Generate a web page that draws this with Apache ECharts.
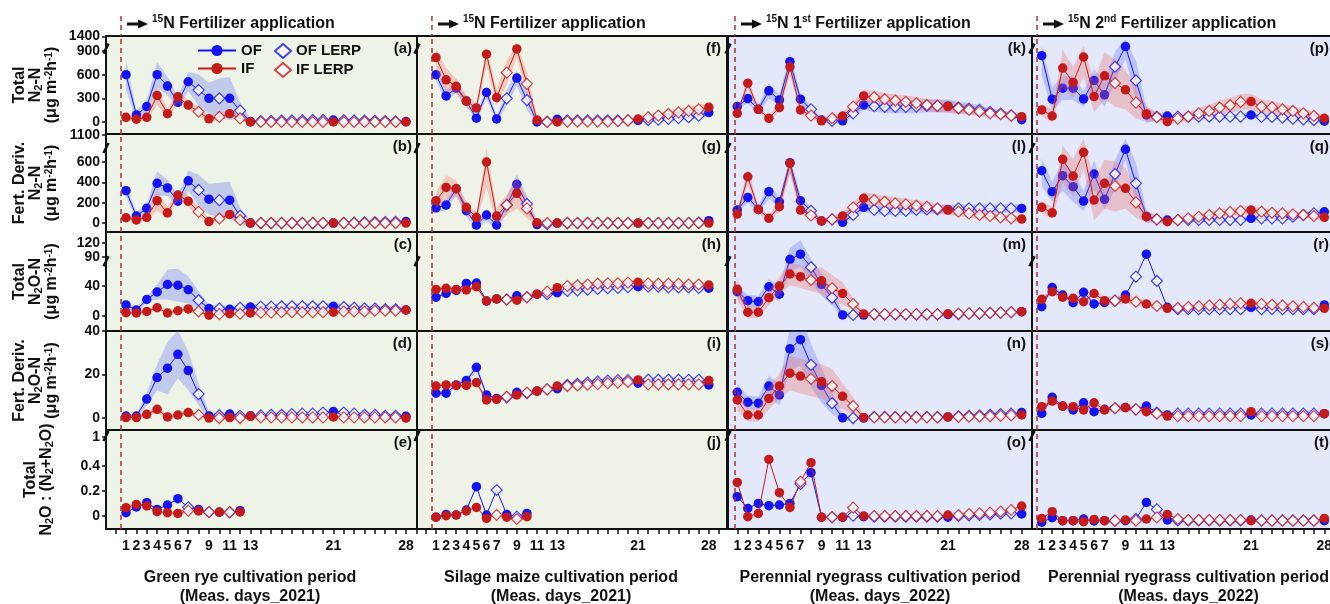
<!DOCTYPE html>
<html>
<head>
<meta charset="utf-8">
<script src="https://cdn.jsdelivr.net/npm/echarts@6/dist/echarts.min.js"></script>
<style>
html, body { margin: 0; padding: 0; background: #fff; }
#chart { width: 1330px; height: 604px; }
</style>
</head>
<body>
<div id="chart"></div>
<script>
// measurement days (x) and which of them were measured (circles) vs LERP (diamonds)
const days = [1, 2, 3, 4, 5, 6, 7, 8, 9, 10, 11, 12, 13, 14, 15, 16, 17, 18, 19, 20, 21, 22, 23, 24, 25, 26, 27, 28];
const measStd = [1, 2, 3, 4, 5, 6, 7, 9, 11, 13, 21, 28];
const measE = [1, 2, 3, 4, 5, 6, 8, 10, 12];
const measJ = [1, 2, 3, 4, 5, 6, 8, 10];
const measO = [1, 2, 3, 4, 5, 6, 8, 9, 11, 13, 21, 28];
const xTickLabels = [1, 2, 3, 4, 5, 6, 7, 9, 11, 13, 21, 28];

// y tick labels per row (real values)
const yTicksN2 = [0, 300, 600, 900, 1400];
const yTicksN2fd = [0, 200, 400, 600, 1100];
const yTicksN2O = [0, 40, 90, 120];
const yTicksN2Ofd = [0, 20, 40];
const yTicksRatio = [0, 0.2, 0.4, 1];

// ---- green rye 2021 ----
const aOF = [600, 90, 195, 600, 455, 250, 510, 405, 300, 300, 300, 145, 5, 12, 15, 18, 20, 22, 25, 25, 25, 22, 20, 18, 15, 12, 8, 5];
const aIF = [60, 35, 60, 335, 105, 320, 215, 130, 40, 65, 105, 45, 0, 0, 0, 0, 0, 0, 0, 0, 0, 0, 0, 0, 0, 0, 0, 0];
const aOFsd = [190, 60, 80, 160, 120, 70, 120, 200, 200, 250, 270, 110, 40, null, null, null, null, null, null, null, null, null, null, null, null, null, null, null];
const aIFsd = [30, 30, 40, 120, 60, 80, 60, 60, 40, 40, 40, 30, 20, null, null, null, null, null, null, null, null, null, null, null, null, null, null, null];

const bOF = [318, 69, 145, 390, 345, 215, 415, 325, 235, 225, 225, 70, 0, 0, 0, 0, 0, 0, 0, 0, 0, 2, 4, 6, 8, 10, 12, 15];
const bIF = [52, 30, 55, 220, 100, 275, 215, 110, 15, 45, 85, 30, 0, 0, 0, 0, 0, 0, 0, 0, 0, 0, 0, 0, 0, 0, 0, 0];
const bOFsd = [60, 40, 40, 120, 80, 60, 100, 150, 150, 170, 180, 80, 30, null, null, null, null, null, null, null, null, null, null, null, null, null, null, null];
const bIFsd = [20, 20, 30, 100, 60, 50, 60, 40, 30, 30, 30, 20, 10, null, null, null, null, null, null, null, null, null, null, null, null, null, null, null];

const cOF = [14.7, 8, 22, 32, 42, 41, 35, 21, 10, 10, 9, 11, 12, 12.5, 12.5, 13, 13, 13, 13, 13, 13, 12, 11, 10, 10, 9, 9, 8];
const cIF = [4.5, 4, 6, 11, 4, 7, 9.5, 6, 1, 2.5, 3, 3, 4, 4.5, 4.5, 5, 5, 5, 5, 5, 5, 6, 6, 6, 7, 7, 7, 8];
const cOFsd = [3, 3, 4, 10, 20, 22, 18, 12, 5, 4, 4, 4, 4, 4, 4, 4, 4, 4, 4, 4, 4, 4, 4, 4, 4, 4, 4, 4];
const cIFsd = [2, 2, 2, 3, 2, 2, 2, 2, 1.5, 1.5, 1.5, 1.5, 1.5, 1.5, 1.5, 1.5, 1.5, 1.5, 1.5, 1.5, 1.5, 1.5, 1.5, 1.5, 1.5, 1.5, 1.5, 1.5];

const dOF = [0.9, 0.9, 8.7, 18.6, 22.9, 29.3, 21.8, 11, 0.9, 1.3, 1.8, 1, 1, 1.2, 1.5, 1.5, 1.8, 2, 2, 2.5, 3, 2.5, 2, 1.5, 1.5, 1, 1, 0.8];
const dIF = [0.2, 0.2, 1.7, 4, 0.5, 1.4, 2.5, 1.4, 0, 0, 0.2, 0, 0.8, 0.3, 0.3, 0.3, 0.3, 0.3, 0.3, 0.3, 0.5, 0.3, 0.3, 0.3, 0.3, 0.3, 0.3, 0];
const dOFsd = [1, 1, 3, 6, 12, 11, 9, 5, 2, 1, 1, 1, 1, null, null, null, null, null, null, null, null, null, null, null, null, null, null, null];
const dIFsd = [1, 1, 1, 1.5, 1, 1, 1, 1, 0.5, 0.5, 0.5, 0.5, 0.5, null, null, null, null, null, null, null, null, null, null, null, null, null, null, null];

const eOF = [0.027, 0.072, 0.107, 0.053, 0.088, 0.139, 0.07, 0.053, 0.03, 0.03, 0.03, 0.043];
const eIF = [0.067, 0.093, 0.08, 0.035, 0.027, 0.021, 0.043, 0.04, 0.032, 0.032, 0.03, 0.032];

// ---- silage maize 2021 ----
const fOF = [600, 330, 430, 265, 48, 374, 39, 300, 557, 278, 0, 5, 35, 20, 20, 20, 20, 20, 20, 20, 20, 25, 30, 40, 50, 60, 80, 119];
const fIF = [817, 535, 452, 265, 178, 860, 309, 626, 970, 484, 25, 0, 0, 5, 5, 5, 5, 5, 10, 20, 38, 60, 81, 102, 123, 140, 161, 187];
const fOFsd = [80, 80, 60, 60, 40, 80, 40, 100, 100, 120, 30, 20, 20, 20, 20, 20, 20, 20, 20, 20, 20, 25, 25, 30, 30, 35, 35, 40];
const fIFsd = [150, 150, 100, 80, 60, 150, 100, 150, 150, 150, 60, 20, 20, 20, 20, 20, 20, 25, 25, 30, 30, 35, 40, 45, 50, 55, 60, 60];

const gOF = [150, 177, 337, 121, -20, 79, -20, 177, 380, 187, -15, -10, 0, 0, 0, 0, 0, 0, 0, 0, 0, 0, 0, 0, 0, 0, 5, 23];
const gIF = [220, 350, 337, 154, 56, 600, 69, 177, 292, 144, 3, 0, 0, 0, 0, 0, 0, 0, 0, 0, 0, 0, 0, 0, 0, 0, 0, 0];
const gOFsd = [50, 50, 60, 60, 40, 60, 40, 80, 100, 80, 20, 10, 10, 10, 10, 10, 10, 10, 10, 10, 10, 10, 10, 10, 10, 10, 10, 10];
const gIFsd = [80, 120, 80, 60, 40, 250, 80, 100, 150, 100, 30, 10, 10, 10, 10, 10, 10, 10, 10, 10, 10, 10, 10, 10, 10, 10, 10, 10];

const hOF = [25, 30, 34, 43.5, 44, 20, 22.7, 22, 27, 25, 29, 29, 31, 33.4, 34, 35, 36, 37, 37.5, 38.5, 39, 39, 39, 38, 38, 38, 37.5, 37];
const hIF = [35.5, 37, 35.5, 34.7, 39, 20, 22.7, 22, 21, 25, 29, 32.4, 37.8, 40, 41, 42, 43, 43.6, 43.6, 44.6, 45, 43.6, 43, 43, 43, 42, 42, 41.3];
const hOFsd = [2, 2, 2, 2, 2, 2, 2, 2, 2, 2, 2, 2, 2, 2, 2, 2, 2, 2, 2, 2, 2, 2, 2, 2, 2, 2, 2, 2];
const hIFsd = [3, 3, 3, 3, 3, 3, 3, 3, 3, 3, 3, 3, 3, 3, 3, 3, 3, 3, 3, 3, 3, 3, 3, 3, 3, 3, 3, 3];

const iOF = [11.4, 11.4, 15.2, 17.2, 23.3, 10.6, 9, 9.5, 11.8, 11.4, 12.4, 13.2, 13.5, 15.2, 15.7, 16.3, 16.8, 17.2, 17.4, 17.4, 16, 17.6, 17.6, 17.6, 17.6, 17.6, 17.6, 15.2];
const iIF = [14.7, 15.2, 15, 15, 16.3, 8.3, 8.6, 9.8, 10.6, 11.7, 12.4, 13.2, 14.7, 14.7, 15, 15.3, 15.6, 16, 16.3, 16.6, 17.5, 15.5, 15.5, 15.5, 15.5, 15.5, 15.5, 17.2];
const iOFsd = [1, 1, 1, 1, 2, 1, 1, 1, 1, 1, 1, 1, 1, 1, 1, 1, 1, 1, 1, 1, 1, 1, 1, 1, 1, 1, 1, 1];
const iIFsd = [1, 1, 1, 1, 1.5, 1, 1, 1, 1, 1, 1, 1, 1, 1, 1, 1, 1, 1, 1, 1, 1, 1, 1, 1, 1, 1, 1, 1];

const jOF = [-0.01, 0.013, 0.008, 0.048, 0.235, 0.008, 0.208, 0.013, -0.005, 0.021];
const jIF = [-0.01, 0.003, 0.008, 0.04, 0.069, -0.019, 0.008, -0.01, -0.024, -0.005];

// ---- perennial ryegrass 2022, 1st application ----
const kOF = [195, 297, 161, 395, 280, 764, 289, 161, 25, 15, 15, 110, 216, 200, 190, 190, 190, 195, 205, 205, 204, 183, 170, 153, 127, 106, 85, 30];
const kIF = [110, 492, 161, 47, 183, 697, 153, 81, 15, 47, 76, 195, 331, 314, 289, 272, 255, 238, 216, 204, 195, 174, 153, 131, 110, 98, 81, 68];
const kOFsd = [40, 60, 50, 100, 60, 100, 60, 40, 30, 30, 30, 40, 60, 70, 75, 80, 80, 80, 80, 80, 80, 75, 70, 60, 50, 45, 40, 30];
const kIFsd = [40, 70, 40, 30, 50, 100, 50, 40, 30, 40, 50, 60, 80, 80, 80, 80, 80, 80, 80, 80, 80, 70, 60, 55, 50, 45, 40, 30];

const lOF = [128, 252, 134, 308, 209, 593, 219, 121, 20, 36, 7, 79, 154, 130, 120, 120, 120, 130, 134, 134, 134, 144, 144, 144, 144, 144, 144, 144];
const lIF = [88, 455, 134, 46, 160, 587, 128, 76, 20, 36, 69, 154, 243, 226, 209, 193, 183, 170, 160, 144, 128, 112, 95, 79, 69, 56, 46, 39];
const lOFsd = [30, 50, 40, 70, 50, 100, 50, 30, 20, 20, 20, 30, 40, 40, 40, 40, 40, 40, 40, 40, 40, 40, 40, 40, 40, 40, 40, 40];
const lIFsd = [30, 80, 40, 30, 50, 100, 40, 30, 20, 30, 40, 50, 60, 60, 60, 60, 55, 55, 50, 50, 50, 45, 40, 40, 35, 35, 30, 30];

const mOF = [32.4, 20.4, 19, 39, 29, 85, 96, 65, 42, 24.4, 1.5, 1.3, 1.3, 2, 2, 2, 2, 2, 2, 2, 2, 2.5, 3, 3.5, 4, 4.5, 5, 5.7];
const mIF = [35.6, 5, 5, 24.4, 40, 56, 52.4, 48, 47, 37, 30, 16, 2.7, 2.5, 2.5, 2.5, 2.5, 2.5, 2.5, 2.5, 3, 3, 3.5, 3.5, 4, 4.5, 5, 5.7];
const mOFsd = [8, 8, 8, 10, 10, 25, 30, 20, 15, 10, 5, 2, 2, 1, 1, 1, 1, 1, 1, 1, 1, 1, 1, 1, 1, 1, 1, 1];
const mIFsd = [15, 8, 8, 10, 12, 15, 15, 15, 18, 18, 15, 8, 3, 1, 1, 1, 1, 1, 1, 1, 1, 1, 1, 1, 1, 1, 1, 1];

const nOF = [11.8, 7.2, 6.8, 14.7, 10.6, 31.8, 36, 24.4, 15, 6.8, 0.1, 0, 0, 0.5, 0.5, 0.5, 0.5, 0.5, 0.5, 0.5, 0.5, 0.8, 1, 1.2, 1.5, 1.8, 2, 2.5];
const nIF = [8.3, 1.4, 1.4, 9, 14.7, 20.6, 19.3, 18, 16.7, 14.7, 10, 5.5, 0.3, 0.3, 0.3, 0.3, 0.3, 0.3, 0.3, 0.3, 0.5, 0.5, 0.6, 0.7, 0.8, 1, 1.2, 1.4];
const nOFsd = [4, 3, 3, 5, 5, 10, 12, 10, 8, 5, 2, 0.5, 0.5, null, null, null, null, null, null, null, null, null, null, null, null, null, null, null];
const nIFsd = [5, 3, 3, 5, 6, 8, 8, 8, 8, 8, 6, 4, 1, null, null, null, null, null, null, null, null, null, null, null, null, null, null, null];

const oOF = [0.155, 0.061, 0.101, 0.083, 0.088, 0.101, 0.256, 0.347, -0.01, -0.01, -0.01, 0.003, -0.005, -0.005, -0.005, -0.005, -0.005, -0.005, -0.005, -0.005, -0.01, 0, 0.005, 0.008, 0.013, 0.018, 0.02, 0.016];
const oIF = [0.269, -0.005, 0.021, 0.453, 0.187, 0.069, 0.275, 0.427, -0.01, -0.01, -0.01, 0.067, 0, 0, 0, 0, 0, 0, 0, 0, 0.008, 0.008, 0.016, 0.021, 0.027, 0.035, 0.048, 0.08];

// ---- perennial ryegrass 2022, 2nd application ----
const pOF = [841, 289, 429, 429, 293, 526, 344, 700, 1050, 526, 89, 68, 76, 68, 68, 68, 68, 68, 68, 68, 89, 64, 64, 55, 42, 34, 25, 10];
const pIF = [153, 76, 684, 501, 824, 323, 586, 493, 408, 246, 102, 60, 4, 42, 68, 110, 140, 183, 212, 255, 259, 195, 187, 161, 140, 110, 76, 47];
const pOFsd = [250, 150, 150, 150, 100, 150, 150, 200, 250, 250, 100, 50, 30, 30, 30, 30, 30, 30, 30, 30, 30, 30, 30, 30, 30, 30, 30, 30];
const pIFsd = [80, 80, 250, 200, 250, 200, 300, 300, 250, 200, 100, 50, 30, 50, 60, 70, 80, 90, 100, 100, 100, 90, 80, 70, 60, 60, 50, 40];

const qOF = [514, 308, 465, 357, 216, 482, 233, 482, 836, 390, 65, 36, 29, 30, 30, 30, 30, 30, 30, 30, 46, 46, 46, 46, 62, 79, 95, 111];
const qIF = [154, 101, 649, 462, 779, 226, 390, 364, 341, 203, 62, 36, 13, 29, 46, 62, 79, 95, 108, 118, 128, 111, 101, 95, 85, 79, 69, 56];
const qOFsd = [150, 100, 150, 150, 100, 150, 100, 150, 200, 200, 60, 30, 20, 20, 20, 20, 20, 20, 20, 20, 25, 25, 25, 25, 30, 30, 30, 30];
const qIFsd = [60, 60, 250, 200, 250, 200, 250, 250, 200, 150, 60, 30, 20, 30, 30, 30, 35, 35, 40, 40, 40, 40, 35, 35, 35, 30, 30, 30];

const rOF = [12.4, 38, 28, 17.8, 31.6, 16, 18, 20.4, 28, 52.4, 96, 46.7, 11.6, 9, 9, 9, 9, 9, 9, 9, 11.6, 9, 9, 9, 9, 9, 9, 14.7];
const rIF = [22.2, 32.4, 25, 23.6, 19, 30, 20.4, 20.4, 22.7, 19, 16, 13.3, 10.2, 10.7, 12, 13, 14, 15, 16, 17, 17, 16, 15, 14, 13, 12, 11, 10.2];
const rOFsd = [3, 3, 3, 3, 3, 3, 3, 3, 3, null, null, null, 3, 2, 2, 2, 2, 2, 2, 2, 2, 2, 2, 2, 2, 2, 2, 2];
const rIFsd = [3, 3, 3, 3, 3, 4, 6, 6, 6, 5, 4, 3, 2, 2, 2, 2, 2, 2, 2, 2, 2, 2, 2, 2, 2, 2, 2, 2];

const sOF = [2.1, 9.5, 5.5, 3.7, 7, 2.9, 4, 4.5, 4.8, 4, 5.5, 2.5, 1.4, 2, 2, 2, 2, 2, 2, 2, 1.4, 2, 2, 2, 2, 2, 2, 2];
const sIF = [5.2, 7.8, 5.5, 5.2, 3.7, 7, 3.7, 4.5, 4.8, 4, 2.9, 2, 0.9, 0.9, 0.9, 0.9, 0.9, 0.9, 0.9, 0.9, 2.9, 0.9, 0.9, 0.9, 0.9, 0.9, 0.9, 2];
const sOFsd = [1, 1, 1, 1, 1, 1, 1, 1, 1, 1, 1, 1, 1, 1, 1, 1, 1, 1, 1, 1, 1, 1, 1, 1, 1, 1, 1, 1];
const sIFsd = [1, 1, 1, 1, 1, 1, 1.5, 1.5, 1.5, 1, 1, 1, 1, 1, 1, 1, 1, 1, 1, 1, 1, 1, 1, 1, 1, 1, 1, 1];

const tOF = [-0.05, -0.013, -0.037, -0.037, -0.024, -0.04, -0.037, -0.037, -0.037, -0.024, 0.109, 0.053, -0.032, -0.035, -0.035, -0.035, -0.035, -0.035, -0.035, -0.035, -0.032, -0.035, -0.035, -0.035, -0.035, -0.035, -0.035, -0.037];
const tIF = [-0.019, 0.035, -0.037, -0.037, -0.045, -0.027, -0.037, -0.037, -0.032, -0.037, -0.024, -0.011, 0.013, -0.024, -0.032, -0.032, -0.032, -0.032, -0.032, -0.032, -0.037, -0.037, -0.037, -0.037, -0.037, -0.037, -0.037, -0.019];

// panels by column, top to bottom: [letter, OF, IF, OF band, IF band, measured days]
const panels = [
    [['a', aOF, aIF, aOFsd, aIFsd, measStd], ['b', bOF, bIF, bOFsd, bIFsd, measStd], ['c', cOF, cIF, cOFsd, cIFsd, measStd], ['d', dOF, dIF, dOFsd, dIFsd, measStd], ['e', eOF, eIF, null, null, measE]],
    [['f', fOF, fIF, fOFsd, fIFsd, measStd], ['g', gOF, gIF, gOFsd, gIFsd, measStd], ['h', hOF, hIF, hOFsd, hIFsd, measStd], ['i', iOF, iIF, iOFsd, iIFsd, measStd], ['j', jOF, jIF, null, null, measJ]],
    [['k', kOF, kIF, kOFsd, kIFsd, measStd], ['l', lOF, lIF, lOFsd, lIFsd, measStd], ['m', mOF, mIF, mOFsd, mIFsd, measStd], ['n', nOF, nIF, nOFsd, nIFsd, measStd], ['o', oOF, oIF, null, null, measO]],
    [['p', pOF, pIF, pOFsd, pIFsd, measStd], ['q', qOF, qIF, qOFsd, qIFsd, measStd], ['r', rOF, rIF, rOFsd, rIFsd, measStd], ['s', sOF, sIF, sOFsd, sIFsd, measStd], ['t', tOF, tIF, null, null, measStd]]
];

// layout
const FONT = "'Liberation Sans', Arial, sans-serif";
const colLeft = [106, 417, 728, 1032];
const colRight = [418, 727, 1032, 1335];
const rowTop = [36, 134, 232, 331, 430];
const rowBot = [134, 232, 331, 430, 529];
const bgCol = ['#edf3e6', '#eff3e7', '#e3e9fb', '#e3e9fb'];
const xMin = [-0.93, -0.88, 0.12, 0.07];
const xMax = [29.16, 29.8, 28.98, 29.02];
const dashX = [0.52, 0.6, 0.78, 0.55];
const xNameShift = [-12, -11, 0, 5];

// broken y axes: below lo linear, above hi compressed by k
const yMin = [-152, -88, -20, -5.5, -0.104];
const yMax = [1090, 875, 112, 40, 0.688];
const brkLo = [900, 600, 72, 1e9, 0.6];
const brkHi = [900, 600, 79.2, 1e9, 0.6];
const brkK = [0.37, 0.53, 0.62, 1, 0.08];
const brkMark = [930, 737, 73, null, 0.64];
const yTicks = [yTicksN2, yTicksN2fd, yTicksN2O, yTicksN2Ofd, yTicksRatio];

const colOF = '#1414f0';
const colIF = '#c41a1a';
const bandOF = 'rgba(95,110,250,0.30)';
const bandIF = 'rgba(236,105,92,0.30)';

function dv(r, v) {
    if (v <= brkLo[r]) return v;
    if (v >= brkHi[r]) return brkLo[r] + (v - brkHi[r]) * brkK[r];
    return brkLo[r];
}

const yNames = [
    '{b|Total}\n{b|N}{s|2}{b|-N}\n{b|(μg m}{p|-2}{b|h}{p|-1}{b|)}',
    '{b|Fert. Deriv.}\n{b|N}{s|2}{b|-N}\n{b|(μg m}{p|-2}{b|h}{p|-1}{b|)}',
    '{b|Total}\n{b|N}{s|2}{b|O-N}\n{b|(μg m}{p|-2}{b|h}{p|-1}{b|)}',
    '{b|Fert. Deriv.}\n{b|N}{s|2}{b|O-N}\n{b|(μg m}{p|-2}{b|h}{p|-1}{b|)}',
    '{b|Total}\n{b|N}{s|2}{b|O : (N}{s|2}{b|+N}{s|2}{b|O)}'
];
const xNames = [
    'Green rye cultivation period\n(Meas. days_2021)',
    'Silage maize cultivation period\n(Meas. days_2021)',
    'Perennial ryegrass cultivation period\n(Meas. days_2022)',
    'Perennial ryegrass cultivation period\n(Meas. days_2022)'
];
const colTitles = [
    '{p|15}{t|N Fertilizer application}',
    '{p|15}{t|N Fertilizer application}',
    '{p|15}{t|N 1}{p|st}{t| Fertilizer application}',
    '{p|15}{t|N 2}{p|nd}{t| Fertilizer application}'
];
const nameRich = {
    b: { fontSize: 16, fontWeight: 'bold', fontFamily: FONT, color: '#111', lineHeight: 16 },
    s: { fontSize: 11, fontWeight: 'bold', fontFamily: FONT, color: '#111', lineHeight: 11, verticalAlign: 'bottom' },
    p: { fontSize: 10, fontWeight: 'bold', fontFamily: FONT, color: '#111', lineHeight: 10, verticalAlign: 'top' }
};

function bandRender(r, vals, sds, fill) {
    return function (params, api) {
        if (params.dataIndex > 0) return;
        const segs = [];
        let cur = [];
        days.forEach(function (d, i) {
            if (vals[i] == null || sds[i] == null) {
                if (cur.length) segs.push(cur);
                cur = [];
                return;
            }
            cur.push(i);
        });
        if (cur.length) segs.push(cur);
        const children = segs.filter(s => s.length > 1).map(function (s) {
            const up = s.map(i => api.coord([days[i], dv(r, vals[i] + sds[i])]));
            const lo = s.slice().reverse().map(i => api.coord([days[i], dv(r, vals[i] - sds[i])]));
            return { type: 'polygon', shape: { points: up.concat(lo) }, style: { fill: fill } };
        });
        return { type: 'group', children: children };
    };
}

const grids = [], xAxes = [], yAxes = [], series = [];

for (let r = 0; r < 5; r++) {
    for (let c = 0; c < 4; c++) {
        const gi = r * 4 + c;
        const P = panels[c][r];
        grids.push({
            left: colLeft[c], top: rowTop[r],
            width: colRight[c] - colLeft[c], height: rowBot[r] - rowTop[r],
            show: true, backgroundColor: bgCol[c], borderColor: '#111', borderWidth: 2,
            outerBoundsMode: 'none'
        });
        const xt = [];
        for (let v = Math.ceil(xMin[c]); v <= Math.floor(xMax[c]); v++) xt.push(v);
        xAxes.push({
            type: 'value', gridIndex: gi, min: xMin[c], max: xMax[c],
            axisLine: { show: r === 4, onZero: false, lineStyle: { color: '#111', width: 2 } },
            axisTick: { show: r === 4, customValues: xt, length: 5, lineStyle: { color: '#111', width: 1.5 } },
            axisLabel: { show: r === 4, customValues: xTickLabels, margin: 10, fontSize: 14, fontWeight: 'bold', fontFamily: FONT, color: '#111' },
            splitLine: { show: false },
            name: r === 4 ? xNames[c] : '', nameLocation: 'middle', nameGap: 39,
            nameTextStyle: {
                fontSize: 16, fontWeight: 'bold', fontFamily: FONT, color: '#111', lineHeight: 19,
                padding: xNameShift[c] < 0 ? [0, -2 * xNameShift[c], 0, 0] : [0, 0, 0, 2 * xNameShift[c]]
            }
        });
        const disp = yTicks[r].map(v => dv(r, v));
        const labs = yTicks[r];
        yAxes.push({
            type: 'value', gridIndex: gi, min: yMin[r], max: yMax[r],
            axisLine: { show: false, onZero: false },
            axisTick: { show: c === 0, customValues: disp, length: 4, lineStyle: { color: '#111', width: 1.5 } },
            axisLabel: {
                show: c === 0, customValues: disp, margin: 6, fontSize: 14, fontWeight: 'bold', fontFamily: FONT, color: '#111',
                formatter: function (val) {
                    for (let k = 0; k < disp.length; k++) {
                        if (Math.abs(disp[k] - val) < 1e-6 * (yMax[r] - yMin[r])) return String(labs[k]);
                    }
                    return '';
                }
            },
            splitLine: { show: false },
            name: c === 0 ? yNames[r] : '', nameLocation: 'middle', nameRotate: 90,
            nameGap: r === 4 ? 51 : 46,
            nameTextStyle: { rich: nameRich, lineHeight: 16 }
        });

        const vOF = P[1], vIF = P[2], sdOF = P[3], sdIF = P[4], meas = P[5];
        function lineData(vals) {
            const out = [];
            days.forEach(function (d, i) {
                if (vals[i] != null) out.push({ value: [d, dv(r, vals[i])], symbol: meas.indexOf(d) >= 0 ? 'circle' : 'none' });
            });
            return out;
        }
        function lerpData(vals) {
            const out = [];
            days.forEach(function (d, i) {
                if (vals[i] != null && meas.indexOf(d) < 0) out.push([d, dv(r, vals[i])]);
            });
            return out;
        }
        if (sdOF) {
            series.push({ type: 'custom', xAxisIndex: gi, yAxisIndex: gi, clip: true, silent: true, z: 2,
                data: [[days[0], 0]], renderItem: bandRender(r, vOF, sdOF, bandOF) });
        }
        series.push({
            type: 'line', name: 'OF', xAxisIndex: gi, yAxisIndex: gi, z: 3,
            data: lineData(vOF), symbol: 'circle', symbolSize: 9.5,
            lineStyle: { color: colOF, width: 1 }, itemStyle: { color: colOF },
            markLine: {
                silent: true, symbol: 'none', label: { show: false },
                lineStyle: { type: [5, 4], color: '#a8323a', width: 1.5 },
                data: [{ xAxis: dashX[c] }]
            }
        });
        if (sdIF) {
            series.push({ type: 'custom', xAxisIndex: gi, yAxisIndex: gi, clip: true, silent: true, z: 4,
                data: [[days[0], 0]], renderItem: bandRender(r, vIF, sdIF, bandIF) });
        }
        series.push({
            type: 'line', name: 'IF', xAxisIndex: gi, yAxisIndex: gi, z: 5,
            data: lineData(vIF), symbol: 'circle', symbolSize: 9.5,
            lineStyle: { color: colIF, width: 1 }, itemStyle: { color: colIF }
        });
        series.push({
            type: 'scatter', name: 'OF LERP', xAxisIndex: gi, yAxisIndex: gi, z: 6,
            data: lerpData(vOF), symbol: 'diamond', symbolSize: 11,
            itemStyle: { color: '#fff', borderColor: colOF, borderWidth: 1.2 }
        });
        series.push({
            type: 'scatter', name: 'IF LERP', xAxisIndex: gi, yAxisIndex: gi, z: 7,
            data: lerpData(vIF), symbol: 'diamond', symbolSize: 11,
            itemStyle: { color: '#fff', borderColor: colIF, borderWidth: 1.2 }
        });
    }
}

const legendText = { fontSize: 15, fontWeight: 'bold', fontFamily: FONT, color: '#111' };
const option = {
    animation: false,
    backgroundColor: '#fff',
    grid: grids,
    xAxis: xAxes,
    yAxis: yAxes,
    legend: [
        { data: ['OF', 'IF'], orient: 'vertical', left: 192, top: 38, itemWidth: 38, itemHeight: 14, itemGap: 3, textStyle: legendText },
        { data: ['OF LERP', 'IF LERP'], orient: 'vertical', left: 269, top: 38, itemWidth: 16, itemHeight: 14, itemGap: 3, textStyle: legendText }
    ],
    series: series
};

const chart = echarts.init(document.getElementById('chart'));
chart.setOption(option);

// titles with arrows, panel letters, axis break marks and the dashed line above the panels
const g = [];
for (let c = 0; c < 4; c++) {
    const px = chart.convertToPixel({ gridIndex: c }, [dashX[c], 0])[0];
    g.push({ type: 'line', shape: { x1: px, y1: 16, x2: px, y2: rowTop[0] },
        style: { stroke: '#a8323a', lineWidth: 1.5, lineDash: [5, 4] } });
    g.push({ type: 'line', shape: { x1: px + 6, y1: 24, x2: px + 19, y2: 24 },
        style: { stroke: '#111', lineWidth: 3 } });
    g.push({ type: 'polygon', shape: { points: [[px + 17, 19.5], [px + 27, 24], [px + 17, 28.5]] },
        style: { fill: '#111' } });
    g.push({ type: 'text', x: px + 31, y: 24, style: {
        text: colTitles[c], verticalAlign: 'middle', fill: '#111',
        font: 'bold 16px ' + FONT,
        rich: {
            t: { fontSize: 16, fontWeight: 'bold', fontFamily: FONT, fill: '#111', lineHeight: 20 },
            p: { fontSize: 10, fontWeight: 'bold', fontFamily: FONT, fill: '#111', lineHeight: 11, verticalAlign: 'top' }
        }
    } });
    for (let r = 0; r < 5; r++) {
        g.push({ type: 'text', x: colRight[c] - 6, y: rowTop[r] + 13, style: {
            text: '(' + panels[c][r][0] + ')', align: 'right', verticalAlign: 'middle',
            font: 'bold 15px ' + FONT, fill: '#111' } });
        if (brkMark[r] != null) {
            const py = chart.convertToPixel({ gridIndex: r * 4 + c }, [xMin[c], brkMark[r]])[1];
            g.push({ type: 'line', shape: { x1: colLeft[c] - 2.5, y1: py + 5, x2: colLeft[c] + 2.5, y2: py - 5 },
                style: { stroke: '#111', lineWidth: 2.5 } });
        }
    }
}
chart.setOption({ graphic: g });
</script>
</body>
</html>
